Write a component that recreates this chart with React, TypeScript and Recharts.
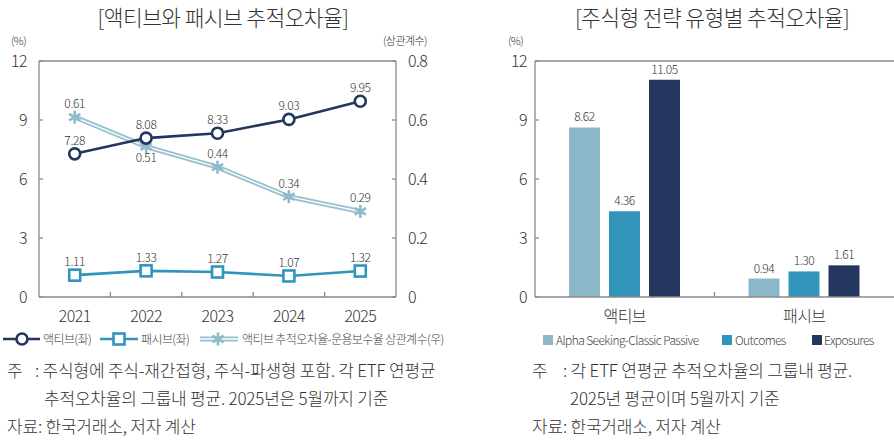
import React from "react";
import {
  ComposedChart, Line, BarChart, Bar, XAxis, YAxis, ReferenceLine, LabelList,
} from "recharts";

const YEARS = ["2021", "2022", "2023", "2024", "2025"];
const ACTIVE = [7.28, 8.08, 8.33, 9.03, 9.95];
const PASSIVE = [1.11, 1.33, 1.27, 1.07, 1.32];
const CORR = [0.61, 0.51, 0.44, 0.34, 0.29];
const LEFT_TICKS = [0, 3, 6, 9, 12];
const RIGHT_TICKS = [0, 0.2, 0.4, 0.6, 0.8];

const GROUPS = ["액티브", "패시브"];
const ALPHA = [8.62, 0.94];
const OUTCOMES = [4.36, 1.3];
const EXPOSURES = [11.05, 1.61];

const FONT = "'Noto Sans CJK KR', 'Noto Sans', sans-serif";
const TEXT = "#333";
const AXIS = "#8a8a8a";
const NAVY = "#23365F";
const TEAL = "#3095BC";
const SKY = "#97C0D0";
const C_ALPHA = "#8CB7C8";
const C_OUT = "#3394BA";
const C_EXP = "#25375F";

const PLOT_TOP = 61;
const PLOT_BOTTOM = 297;
const CHART_H = 330;

const lineData = YEARS.map((y, i) => ({
  year: y, active: ACTIVE[i], passive: PASSIVE[i], corr: CORR[i],
}));
const barData = GROUPS.map((g, i) => ({
  group: g, alpha: ALPHA[i], outcomes: OUTCOMES[i], exposures: EXPOSURES[i],
}));

const tickFont = { fontSize: 16, fill: TEXT, fontFamily: FONT, fontWeight: 300, letterSpacing: -0.6 };

// category label at centre plus a small inward tick at the band boundary
function bandTick(band: number, count: number) {
  return (props: any) => {
    const { x, index, payload } = props;
    return (
      <g>
        <text x={x} y={PLOT_BOTTOM + 25} textAnchor="middle" {...tickFont}>{payload.value}</text>
        {index < count - 1 && (
          <line x1={x + band / 2} x2={x + band / 2} y1={PLOT_BOTTOM} y2={PLOT_BOTTOM - 5}
            stroke={AXIS} strokeWidth={1.3} />
        )}
      </g>
    );
  };
}

const valLabel = (below?: number) => (props: any) => {
  const { x, y, value, index } = props;
  const dy = below === index ? 15 : -9;
  return (
    <text x={x} y={y + dy} textAnchor="middle" fontSize={12} fill={TEXT} fontWeight={300}
      fontFamily={FONT} letterSpacing={-0.4}>{Number(value).toFixed(2)}</text>
  );
};

const barLabel = (props: any) => {
  const { x, y, width, value } = props;
  return (
    <text x={x + width / 2} y={y - 6} textAnchor="middle" fontSize={12} fill={TEXT} fontWeight={300}
      fontFamily={FONT} letterSpacing={-0.4}>{Number(value).toFixed(2)}</text>
  );
};

const Asterisk = (props: any) => {
  const { cx, cy } = props;
  if (cx == null || cy == null) return null;
  const r = 6.5;
  const a = [90, 30, 150];
  return (
    <g>
      {a.map(d => {
        const dx = Math.cos((d * Math.PI) / 180) * r;
        const dy = Math.sin((d * Math.PI) / 180) * r;
        return <line key={d} x1={cx - dx} y1={cy - dy} x2={cx + dx} y2={cy + dy}
          stroke="#8DBBCC" strokeWidth={2.6} />;
      })}
    </g>
  );
};

const Circle = (props: any) => {
  const { cx, cy } = props;
  if (cx == null || cy == null) return null;
  return <circle cx={cx} cy={cy} r={5.5} fill="#fff" stroke={NAVY} strokeWidth={2.6} />;
};

const Square = (props: any) => {
  const { cx, cy } = props;
  if (cx == null || cy == null) return null;
  return <rect x={cx - 5.5} y={cy - 5.5} width={11} height={11} fill="#fff" stroke={TEAL} strokeWidth={2.6} />;
};

function LeftChart() {
  const W = 450, left = 39, right = 54;
  const band = (W - left - right) / YEARS.length;
  return (
    <ComposedChart width={W} height={CHART_H} data={lineData}
      margin={{ top: PLOT_TOP, right: 0, left: 0, bottom: 0 }}>
      <XAxis dataKey="year" height={CHART_H - PLOT_BOTTOM} stroke={AXIS} strokeWidth={1.3}
        padding={{ left: band / 2, right: band / 2 }}
        tickLine={false} tick={bandTick(band, YEARS.length)} interval={0} />
      <YAxis yAxisId="l" width={left} domain={[0, 12]} ticks={LEFT_TICKS} stroke={AXIS}
        strokeWidth={1.3} tickSize={-4} tickMargin={16} tick={tickFont} />
      <YAxis yAxisId="r" orientation="right" width={right} domain={[0, 0.8]} ticks={RIGHT_TICKS}
        stroke={AXIS} strokeWidth={1.3} tickSize={-4} tickMargin={16} tick={{ ...tickFont, textAnchor: "start" }} />
      <ReferenceLine yAxisId="l" y={12} stroke={AXIS} strokeWidth={1.3} />
      <Line yAxisId="r" dataKey="corr" stroke={SKY} strokeWidth={5} dot={false} isAnimationActive={false} />
      <Line yAxisId="r" dataKey="corr" stroke="#fff" strokeWidth={1.4} dot={<Asterisk />}
        isAnimationActive={false}>
        <LabelList dataKey="corr" content={valLabel(1)} />
      </Line>
      <Line yAxisId="l" dataKey="passive" stroke={TEAL} strokeWidth={2.6} dot={<Square />}
        isAnimationActive={false}>
        <LabelList dataKey="passive" content={valLabel()} />
      </Line>
      <Line yAxisId="l" dataKey="active" stroke={NAVY} strokeWidth={2.6} dot={<Circle />}
        isAnimationActive={false}>
        <LabelList dataKey="active" content={valLabel()} />
      </Line>
    </ComposedChart>
  );
}

function RightChart() {
  const W = 414, left = 55;
  const band = (W - left) / GROUPS.length;
  return (
    <BarChart width={W} height={CHART_H} data={barData} barSize={31} barGap={9}
      margin={{ top: PLOT_TOP, right: 0, left: 0, bottom: 0 }}>
      <XAxis dataKey="group" height={CHART_H - PLOT_BOTTOM} stroke={AXIS} strokeWidth={1.3}
        tickLine={false} tick={bandTick(band, GROUPS.length)} interval={0} />
      <YAxis width={left} domain={[0, 12]} ticks={LEFT_TICKS} stroke={AXIS} strokeWidth={1.3}
        tickSize={-4} tickMargin={12} tick={tickFont} />
      <ReferenceLine y={12} stroke={AXIS} strokeWidth={1.3} />
      <Bar dataKey="alpha" fill={C_ALPHA} isAnimationActive={false}>
        <LabelList dataKey="alpha" content={barLabel} />
      </Bar>
      <Bar dataKey="outcomes" fill={C_OUT} isAnimationActive={false}>
        <LabelList dataKey="outcomes" content={barLabel} />
      </Bar>
      <Bar dataKey="exposures" fill={C_EXP} isAnimationActive={false}>
        <LabelList dataKey="exposures" content={barLabel} />
      </Bar>
    </BarChart>
  );
}

const abs = (x: number, y: number, extra: React.CSSProperties = {}): React.CSSProperties => ({
  position: "absolute", left: x, top: y, whiteSpace: "nowrap", ...extra,
});

const noteStyle: React.CSSProperties = { fontSize: 17, color: TEXT, letterSpacing: -0.2, lineHeight: "20px" };
const legStyle: React.CSSProperties = { fontSize: 12, color: "#444", letterSpacing: -0.6, lineHeight: "16px" };
const unitStyle: React.CSSProperties = { fontSize: 11, color: TEXT, letterSpacing: -0.6, lineHeight: "12px" };
const titleStyle: React.CSSProperties = { width: 446, textAlign: "center", fontSize: 21.5, color: TEXT,
  letterSpacing: -0.6, lineHeight: "28px" };

export default function App() {
  return (
    <div style={{ position: "absolute", left: 0, top: 0, width: 894, height: 440, background: "#fff",
      fontFamily: FONT, fontWeight: 300, overflow: "hidden" }}>
      <div style={abs(0, 0)}><LeftChart /></div>
      <div style={abs(480, 0)}><RightChart /></div>

      <div style={abs(0, 3, titleStyle)}>[액티브와 패시브 추적오차율]</div>
      <div style={abs(489, 3, titleStyle)}>[주식형 전략 유형별 추적오차율]</div>
      <div style={abs(11, 34, unitStyle)}>(%)</div>
      <div style={abs(383, 34, unitStyle)}>(상관계수)</div>
      <div style={abs(508, 34, unitStyle)}>(%)</div>

      {/* left legend */}
      <svg style={abs(0, 329)} width={250} height={20}>
        <line x1={3} x2={40} y1={10} y2={10} stroke={NAVY} strokeWidth={2.6} />
        <Circle cx={22} cy={10} />
        <line x1={100} x2={138} y1={10} y2={10} stroke={TEAL} strokeWidth={2.6} />
        <Square cx={119} cy={10} />
        <line x1={200} x2={238} y1={10} y2={10} stroke={SKY} strokeWidth={5} />
        <line x1={200} x2={238} y1={10} y2={10} stroke="#fff" strokeWidth={1.4} />
        <Asterisk cx={218} cy={10} />
      </svg>
      <div style={abs(43, 331, legStyle)}>액티브(좌)</div>
      <div style={abs(141, 331, legStyle)}>패시브(좌)</div>
      <div style={abs(242, 331, legStyle)}>액티브 추적오차율-운용보수율 상관계수(우)</div>

      {/* right legend */}
      <div style={abs(543, 335, { width: 10, height: 10, background: C_ALPHA })} />
      <div style={abs(556, 332, legStyle)}>Alpha Seeking-Classic Passive</div>
      <div style={abs(722, 335, { width: 10, height: 10, background: C_OUT })} />
      <div style={abs(735, 332, legStyle)}>Outcomes</div>
      <div style={abs(812, 335, { width: 10, height: 10, background: C_EXP })} />
      <div style={abs(824, 332, legStyle)}>Exposures</div>

      {/* left notes */}
      <div style={abs(7, 360, noteStyle)}>주</div>
      <div style={abs(35, 360, noteStyle)}>: 주식형에 주식-재간접형, 주식-파생형 포함. 각 ETF 연평균</div>
      <div style={abs(44, 388, noteStyle)}>추적오차율의 그룹내 평균. 2025년은 5월까지 기준</div>
      <div style={abs(7, 416, noteStyle)}>자료: 한국거래소, 저자 계산</div>

      {/* right notes */}
      <div style={abs(532, 360, noteStyle)}>주</div>
      <div style={abs(563, 360, noteStyle)}>: 각 ETF 연평균 추적오차율의 그룹내 평균.</div>
      <div style={abs(570, 388, noteStyle)}>2025년 평균이며 5월까지 기준</div>
      <div style={abs(532, 416, noteStyle)}>자료: 한국거래소, 저자 계산</div>
    </div>
  );
}
